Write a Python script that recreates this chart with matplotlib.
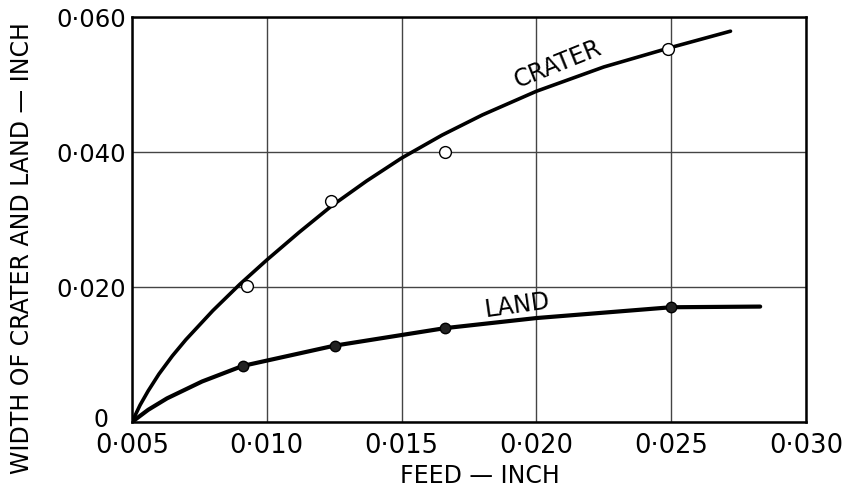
import matplotlib
matplotlib.use("Agg")
import matplotlib.pyplot as plt

# traced crater curve (feed, width) in inch
crater_x = [0.0050, 0.0053, 0.0056, 0.0060, 0.0065, 0.0070, 0.0080, 0.0090, 0.0100,
            0.0112, 0.0124, 0.0137, 0.0150, 0.0165, 0.0180, 0.0200, 0.0225, 0.0250, 0.0272]
crater_y = [0.0000, 0.0025, 0.0046, 0.0071, 0.0098, 0.0122, 0.0165, 0.0204, 0.0240,
            0.0281, 0.0320, 0.0357, 0.0391, 0.0425, 0.0455, 0.0490, 0.0526, 0.0555, 0.0579]
# measured crater points (open circles)
crater_pts_x = [0.00925, 0.01237, 0.01661, 0.02488]
crater_pts_y = [0.0201, 0.0327, 0.0400, 0.0553]

# traced land curve
land_x = [0.0050, 0.0056, 0.0063, 0.0076, 0.0091, 0.0125, 0.0166, 0.0200, 0.0250, 0.0283]
land_y = [0.0000, 0.0018, 0.0035, 0.0060, 0.0083, 0.0113, 0.0139, 0.0154, 0.0170, 0.0171]
# measured land points (filled)
land_pts_x = [0.00911, 0.01253, 0.01660, 0.02499]
land_pts_y = [0.0083, 0.0113, 0.0139, 0.0170]

x_ticks = [0.005, 0.010, 0.015, 0.020, 0.025, 0.030]
x_labels = ["0·005", "0·010", "0·015", "0·020", "0·025", "0·030"]
y_ticks = [0.0, 0.020, 0.040, 0.060]
y_labels = ["", "0·020", "0·040", "0·060"]

fig = plt.figure(figsize=(8.58, 4.96), dpi=100)
ax = fig.add_axes([0.1538, 0.1492, 0.7856, 0.8165])

ax.plot(crater_x, crater_y, color="black", lw=2.6, solid_capstyle="round", zorder=3)
ax.plot(land_x, land_y, color="black", lw=3.0, solid_capstyle="round", zorder=3)
ax.plot(crater_pts_x, crater_pts_y, "o", ms=8.5, mfc="white", mec="black", mew=1.0, zorder=4)
ax.plot(land_pts_x, land_pts_y, "o", ms=7.5, mfc="#222222", mec="black", mew=1.0, zorder=4)

ax.set_xlim(0.005, 0.030)
ax.set_ylim(0, 0.060)
ax.set_xticks(x_ticks)
ax.set_xticklabels(x_labels)
ax.set_yticks(y_ticks)
ax.set_yticklabels(y_labels)
ax.tick_params(length=0)
ax.tick_params(axis="x", pad=8, labelsize=18.5)
ax.tick_params(axis="y", pad=4, labelsize=17.5)
ax.grid(True, color="#444444", lw=1.0)
for s in ax.spines.values():
    s.set_linewidth(1.8)

# the origin "0" sits off to the left, as in the original drawing
ax.annotate("0", xy=(0.005, 0), xytext=(-22, 1.5), textcoords="offset points",
            fontsize=17, ha="center", va="center", annotation_clip=False)

ax.text(0.0208, 0.0530, "CRATER", rotation=22, fontsize=17, ha="center", va="center")
ax.text(0.0193, 0.0173, "LAND", rotation=8, fontsize=17, ha="center", va="center")

fig.text(0.559, 0.04, "FEED — INCH", fontsize=17, ha="center", va="center")
fig.text(0.026, 0.5, "WIDTH OF CRATER AND LAND — INCH", fontsize=17,
         rotation=90, ha="center", va="center")

fig.savefig("out.png", dpi=100)
